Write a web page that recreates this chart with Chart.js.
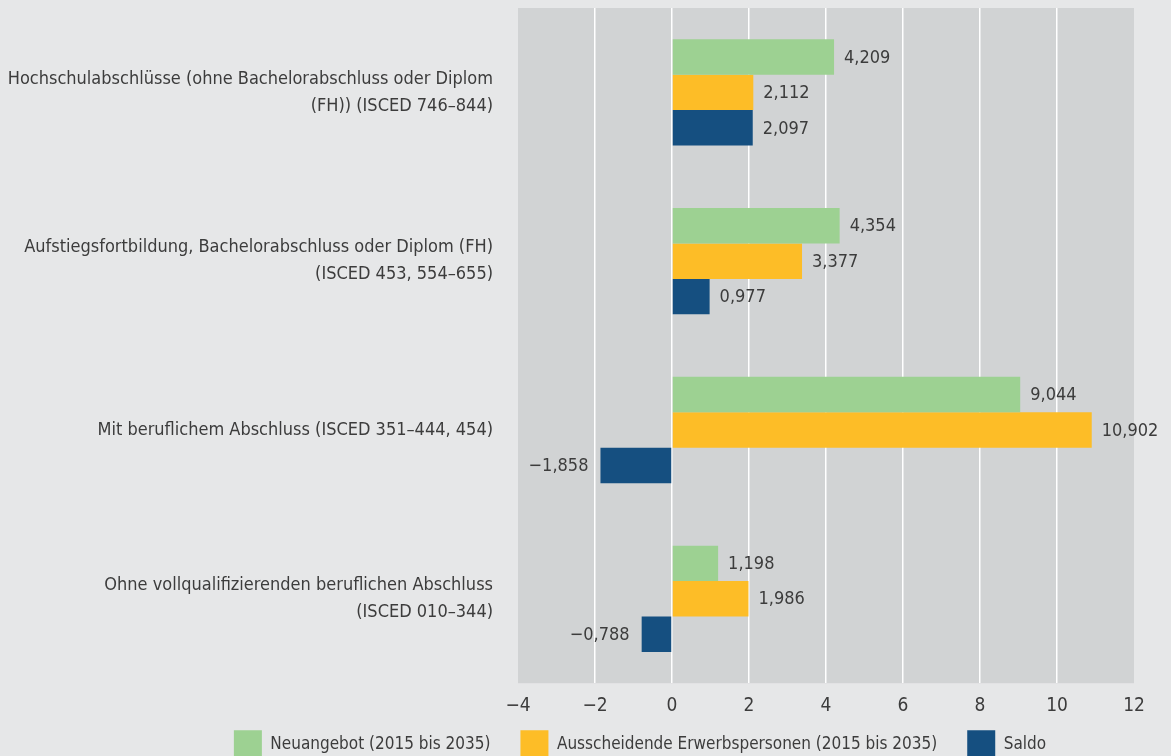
<!DOCTYPE html>
<html>
<head>
<meta charset="utf-8">
<script src="https://cdn.jsdelivr.net/npm/chart.js@4"></script>
<style>
  html, body { margin: 0; padding: 0; background: #e6e7e8; overflow: hidden; }
  #wrap { position: relative; width: 1171px; height: 796px; }
</style>
</head>
<body>
<div id="wrap"><canvas id="barChart"></canvas></div>
<script>
// Categories (multi-line labels)
const categories = [
    ['Hochschulabschlüsse (ohne Bachelorabschluss oder Diplom', '(FH)) (ISCED 746–844)'],
    ['Aufstiegsfortbildung, Bachelorabschluss oder Diplom (FH)', '(ISCED 453, 554–655)'],
    'Mit beruflichem Abschluss (ISCED 351–444, 454)',
    ['Ohne vollqualifizierenden beruflichen Abschluss', '(ISCED 010–344)']
];

// Series values
const neuangebot = [4.209, 4.354, 9.044, 1.198];
const ausscheidende = [2.112, 3.377, 10.902, 1.986];
const saldo = [2.097, 0.977, -1.858, -0.788];

const seriesNames = ['Neuangebot (2015 bis 2035)', 'Ausscheidende Erwerbspersonen (2015 bis 2035)', 'Saldo'];
const seriesColors = ['#9dd192', '#fdbd27', '#154f80'];

// Axis range
const xMin = -4;
const xMax = 12;
const xStep = 2;

const fontFamily = '"DejaVu Sans Condensed", "DejaVu Sans", sans-serif';
const textColor = '#3c3c3c';

// German number formatting, minus sign instead of hyphen
const fmt = (v, digits) => {
    const s = Math.abs(v).toFixed(digits).replace('.', ',');
    return (v < 0 ? '\u2212' : '') + s;
};

// Grey plot background
const plotBg = {
    id: 'plotBg',
    beforeDraw(chart) {
        const { ctx, chartArea } = chart;
        ctx.save();
        ctx.fillStyle = '#d1d3d4';
        ctx.fillRect(chartArea.left, chartArea.top, chartArea.right - chartArea.left, chartArea.bottom - chartArea.top);
        ctx.restore();
    }
};

// Move the legend: centred under the plot and closer to the axis, like the original
const legendShift = {
    id: 'legendShift',
    afterLayout(chart) {
        const lg = chart.legend;
        const dx = 640 - (lg.left + lg.right) / 2;
        lg.left += dx;
        lg.right += dx;
        const dy = (chart.chartArea.bottom + 17) - lg.top;
        lg.top += dy;
        lg.bottom += dy;
    }
};

// Value labels at the bar ends
const valueLabels = {
    id: 'valueLabels',
    afterDatasetsDraw(chart) {
        const ctx = chart.ctx;
        ctx.save();
        ctx.font = '18px ' + fontFamily;
        ctx.fillStyle = textColor;
        ctx.textBaseline = 'middle';
        chart.data.datasets.forEach((ds, i) => {
            const meta = chart.getDatasetMeta(i);
            meta.data.forEach((bar, j) => {
                const v = ds.data[j];
                if (v >= 0) {
                    ctx.textAlign = 'left';
                    ctx.fillText(fmt(v, 3), bar.x + 10, bar.y + 1);
                } else {
                    ctx.textAlign = 'right';
                    ctx.fillText(fmt(v, 3), bar.x - 12, bar.y + 1);
                }
            });
        });
        ctx.restore();
    }
};

const data = {
    labels: categories,
    datasets: [
        { label: seriesNames[0], data: neuangebot, backgroundColor: seriesColors[0] },
        { label: seriesNames[1], data: ausscheidende, backgroundColor: seriesColors[1] },
        { label: seriesNames[2], data: saldo, backgroundColor: seriesColors[2] }
    ].map(d => Object.assign(d, { categoryPercentage: 0.63, barPercentage: 1.0, borderWidth: 0 }))
};

const config = {
    type: 'bar',
    data,
    plugins: [plotBg, valueLabels, legendShift],
    options: {
        indexAxis: 'y',
        responsive: true,
        maintainAspectRatio: false,
        animation: false,
        layout: { padding: { left: 0, right: 37, top: 8, bottom: 0 } },
        plugins: {
            tooltip: { enabled: false },
            legend: {
                position: 'bottom',
                labels: {
                    boxWidth: 28,
                    boxHeight: 28,
                    padding: 30,
                    color: textColor,
                    font: { family: fontFamily, size: 17 }
                }
            }
        },
        scales: {
            x: {
                min: xMin,
                max: xMax,
                ticks: {
                    stepSize: xStep,
                    color: textColor,
                    padding: 11,
                    font: { family: fontFamily, size: 19 },
                    callback: v => fmt(v, 0)
                },
                grid: {
                    color: ctx => (ctx.tick && (ctx.tick.value === xMin || ctx.tick.value === xMax)) ? 'rgba(0,0,0,0)' : '#ffffff',
                    lineWidth: 1.5,
                    drawTicks: false
                },
                border: { display: false }
            },
            y: {
                afterFit(scale) {
                    scale.width = 518;
                    scale.paddingTop = 0;
                    scale.paddingBottom = 0;
                },
                ticks: {
                    color: textColor,
                    padding: 25,
                    font: { family: fontFamily, size: 18, lineHeight: 1.5 }
                },
                grid: { display: false, drawTicks: false },
                border: { display: false }
            }
        }
    }
};

new Chart(document.getElementById('barChart'), config);
</script>
</body>
</html>
